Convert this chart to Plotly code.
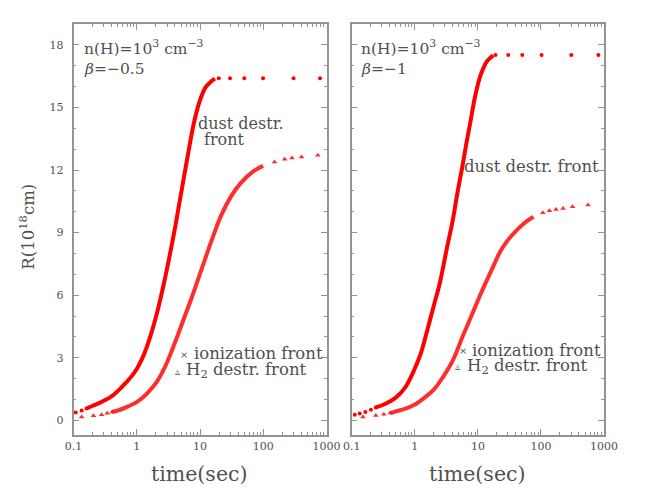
import plotly.graph_objects as go

# left panel: beta = -0.5
L_DUST_T = [0.108, 0.134, 0.16, 0.2, 0.286, 0.407, 0.578, 0.822, 1.035, 1.31, 1.66, 2.1,
            2.65, 3.3, 4.0, 4.75, 5.66, 6.74, 8.04, 9.6, 12.1, 15.0, 17.2]
L_DUST_R = [0.38, 0.48, 0.57, 0.70, 0.91, 1.18, 1.60, 2.11, 2.55, 3.2, 4.1, 5.2,
            6.5, 7.9, 9.2, 10.5, 11.8, 13.1, 14.3, 15.2, 15.95, 16.25, 16.38]
L_DUST_TAIL_T = [19.7, 29.7, 50, 99, 300, 787]
L_DUST_TAIL_R = [16.4, 16.4, 16.4, 16.4, 16.4, 16.4]

L_H2_T = [0.134, 0.206, 0.277, 0.341, 0.407, 0.545, 0.73, 1.035, 1.47, 2.09, 2.97, 4.2,
          5.5, 7.4, 10.7, 15.3, 21.7, 31, 44.5, 70, 99]
L_H2_R = [0.16, 0.22, 0.27, 0.34, 0.40, 0.51, 0.67, 0.91, 1.31, 1.87, 2.75, 3.9,
          4.85, 5.9, 7.3, 8.65, 9.85, 10.75, 11.4, 11.95, 12.2]
L_H2_TAIL_T = [150, 217, 283, 402, 726]
L_H2_TAIL_R = [12.38, 12.52, 12.58, 12.63, 12.71]

# right panel: beta = -1
R_DUST_T = [0.112, 0.134, 0.165, 0.202, 0.241, 0.343, 0.488, 0.693, 0.93, 1.25, 1.57, 2.0,
            2.5, 3.2, 4.0, 4.8, 5.7, 6.5, 7.6, 9.0, 10.9, 13.8, 17.5]
R_DUST_R = [0.27, 0.33, 0.40, 0.51, 0.62, 0.80, 1.07, 1.55, 2.27, 3.22, 4.3, 5.5,
            6.6, 8.2, 9.6, 11.0, 12.2, 13.2, 14.3, 15.5, 16.5, 17.2, 17.5]
R_DUST_TAIL_T = [19, 30.3, 50.6, 102, 302, 813]
R_DUST_TAIL_R = [17.52, 17.52, 17.52, 17.52, 17.52, 17.52]

R_H2_T = [0.151, 0.241, 0.323, 0.409, 0.488, 0.693, 0.986, 1.40, 2.0, 2.84, 4.04, 5.73,
          8.0, 11.6, 16.5, 23.3, 33, 53.5, 76]
R_H2_R = [0.16, 0.24, 0.29, 0.35, 0.42, 0.55, 0.75, 1.07, 1.47, 2.11, 2.90, 4.02,
          5.05, 6.2, 7.21, 8.17, 8.80, 9.44, 9.76]
R_H2_TAIL_T = [107, 136, 173, 224, 316, 557]
R_H2_TAIL_R = [9.95, 10.05, 10.11, 10.16, 10.24, 10.32]

X_TICKS = [0.1, 1, 10, 100, 1000]
X_TICK_TEXT = ["0.1", "1", "10", "100", "1000"]

# page body has an 8px margin, so the figure is drawn 8px smaller and shifted
OFF = 8
W, H = 656 - OFF, 491 - OFF
RED = "#ff0000"
PINK = "rgba(255,22,22,0.9)"
GREY = "#939393"
TXT = "#505050"
FONT = "DejaVu Serif"


def px(x):
    return (x - OFF) / W


def py(y):
    return 1 - (y - OFF) / H


fig = go.Figure()


def add_panel(xa, ya, dt, dr, dtt, dtr, ht, hr, htt, htr, dust_skip, h2_skip):
    # dense part as a thick line, sparse head/tail as single marks
    fig.add_trace(go.Scatter(x=dt[dust_skip:], y=dr[dust_skip:], mode="lines",
                             line=dict(color=RED, width=4, shape="spline"),
                             xaxis=xa, yaxis=ya, showlegend=False))
    fig.add_trace(go.Scatter(x=dt[:dust_skip + 1] + dtt, y=dr[:dust_skip + 1] + dtr,
                             mode="markers", marker=dict(color=RED, size=4),
                             xaxis=xa, yaxis=ya, showlegend=False))
    fig.add_trace(go.Scatter(x=ht[h2_skip:], y=hr[h2_skip:], mode="lines",
                             line=dict(color=PINK, width=4, shape="spline"),
                             xaxis=xa, yaxis=ya, showlegend=False))
    fig.add_trace(go.Scatter(x=ht[:h2_skip + 1] + htt, y=hr[:h2_skip + 1] + htr,
                             mode="markers",
                             marker=dict(color=PINK, size=5, symbol="triangle-up"),
                             xaxis=xa, yaxis=ya, showlegend=False))


add_panel("x", "y", L_DUST_T, L_DUST_R, L_DUST_TAIL_T, L_DUST_TAIL_R,
          L_H2_T, L_H2_R, L_H2_TAIL_T, L_H2_TAIL_R, 2, 4)
add_panel("x2", "y2", R_DUST_T, R_DUST_R, R_DUST_TAIL_T, R_DUST_TAIL_R,
          R_H2_T, R_H2_R, R_H2_TAIL_T, R_H2_TAIL_R, 4, 3)

minor_x = [m * 10 ** e for e in range(-1, 3) for m in range(2, 10)]

xcommon = dict(type="log", range=[-1, 3], showgrid=False, zeroline=False,
               showline=True, linecolor=GREY, linewidth=1.6, mirror="ticks",
               ticks="inside", ticklen=6, tickwidth=1, tickcolor=GREY,
               tickvals=X_TICKS, ticktext=X_TICK_TEXT,
               tickfont=dict(family=FONT, size=11, color=TXT),
               minor=dict(tickvals=minor_x, ticks="inside", ticklen=3,
                          tickcolor=GREY, showgrid=False))
ycommon = dict(range=[-0.7, 19], showgrid=False, zeroline=False,
               showline=True, linecolor=GREY, linewidth=1.6, mirror="ticks",
               ticks="inside", ticklen=6, tickwidth=1, tickcolor=GREY,
               tick0=0, dtick=3, ticklabelstandoff=6,
               tickfont=dict(family=FONT, size=11, color=TXT),
               minor=dict(dtick=1, ticks="inside", ticklen=3,
                          tickcolor=GREY, showgrid=False))

y_dom = [py(435), py(24)]
fig.update_layout(
    width=W, height=H,
    margin=dict(l=0, r=0, t=0, b=0),
    paper_bgcolor="white", plot_bgcolor="white",
    xaxis=dict(xcommon, domain=[px(66.7), px(329)], anchor="y"),
    yaxis=dict(ycommon, domain=y_dom, anchor="x"),
    xaxis2=dict(xcommon, domain=[px(355), px(616.7)], anchor="y2"),
    yaxis2=dict(ycommon, domain=y_dom, anchor="x2", showticklabels=False),
)


def note(text, x, y, size=16, xanchor="left", angle=0):
    fig.add_annotation(text=text, x=px(x), y=py(y), xref="paper", yref="paper",
                       xanchor=xanchor, yanchor="middle", showarrow=False,
                       textangle=angle, align="left", borderpad=0,
                       font=dict(family=FONT, size=size, color=TXT))


nh = "n(H)=10<sup>3</sup> cm<sup>−3</sup>"
note(nh, 76, 48, size=15.5)
note("<i>β</i>=−0.5", 76, 69, size=15.5)
note(nh, 364, 48, size=15.5)
note("<i>β</i>=−1", 364, 69, size=15.5)

note("dust destr.", 195, 124)
note("front", 201, 139)
note("dust destr. front", 470, 166, size=16.5)

note("×", 181, 354, size=10, xanchor="center")
note("ionization front", 190, 353, size=16.5)
note("▵", 174, 371, size=10, xanchor="center")
note("H<sub>2</sub> destr. front", 182, 370, size=16.5)

note("×", 470, 350, size=10, xanchor="center")
note("ionization front", 479, 350, size=16.5)
note("▵", 465, 366, size=10, xanchor="center")
note("H<sub>2</sub> destr. front", 474, 366, size=16.5)

note("time(sec)", 197.5, 474, size=20.5, xanchor="center")
note("time(sec)", 485, 474, size=20.5, xanchor="center")
note("R(10<sup>18</sup>cm)", 18, 227, size=16.5, xanchor="center", angle=-90)

fig.write_html("out.html")
